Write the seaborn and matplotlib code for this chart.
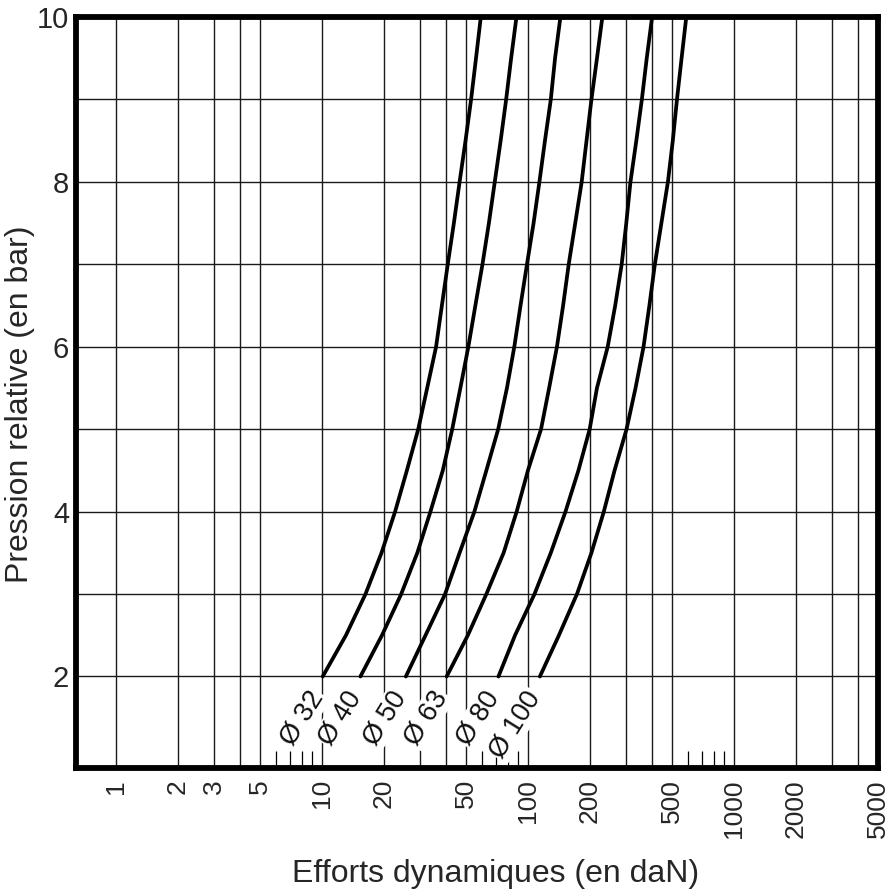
import matplotlib
matplotlib.use("Agg")
import matplotlib.pyplot as plt
import pandas as pd
import seaborn as sns
from matplotlib.ticker import FixedLocator, NullFormatter

# ============ DONNEES ============
DIAMETRES = ["Ø 32", "Ø 40", "Ø 50", "Ø 63", "Ø 80", "Ø 100"]
PRESSIONS = [2, 2.5, 3, 3.5, 4, 4.5, 5, 5.5, 6, 6.5, 7, 7.5, 8, 8.5, 9, 9.5, 10]
EFFORTS_32 = [10.1, 13.1, 16.3, 19.5, 22.7, 25.9, 29.4, 32.5, 35.9, 38.3, 40.9,
              43.8, 46.7, 49.9, 53.1, 56.1, 59.2]
EFFORTS_40 = [15.4, 19.6, 24.3, 29.1, 33.7, 38.7, 43.0, 47.1, 51.5, 55.7, 60.3,
              64.8, 69.2, 73.9, 78.6, 83.1, 88.2]
EFFORTS_50 = [25.6, 31.9, 39.7, 46.7, 55.1, 63.0, 71.9, 79.3, 86.1, 92.3, 99.2,
              106.8, 114.0, 121.3, 129.5, 135.8, 144.2]
EFFORTS_63 = [40.4, 51.2, 63.0, 76.4, 88.4, 100.3, 116.1, 127.1, 138.7, 148.6, 158.2,
              170.2, 182.9, 193.1, 204.0, 217.0, 230.5]
EFFORTS_80 = [72.1, 86.8, 107.9, 129.5, 152.6, 176.4, 200.0, 217.0, 244.7, 266.1, 286.1,
              301.2, 315.6, 337.0, 358.5, 378.6, 402.0]
EFFORTS_100 = [114.6, 141.8, 173.5, 204.0, 234.3, 264.2, 302.1, 334.1, 365.3, 390.0, 414.6,
               446.0, 479.8, 506.7, 530.9, 559.0, 589.2]

X_GRILLE = [1, 2, 3, 4, 5, 10, 20, 30, 40, 50, 100, 200, 300, 400, 500,
            1000, 2000, 3000, 4000, 5000]
X_LABELS = ["1", "2", "3", "", "5", "10", "20", "", "", "50", "100", "200",
            "", "", "500", "1000", "2000", "", "", "5000"]
X_PETITS_TRAITS = [6, 7, 8, 9, 60, 70, 80, 90, 600, 700, 800, 900]
Y_TICKS = [2, 4, 6, 8, 10]
Y_GRILLE_MINEURE = [3, 5, 7, 9]
# =================================

series = [EFFORTS_32, EFFORTS_40, EFFORTS_50, EFFORTS_63, EFFORTS_80, EFFORTS_100]
lignes = []
for nom, efforts in zip(DIAMETRES, series):
    for p, f in zip(PRESSIONS, efforts):
        lignes.append({"diametre": nom, "effort": f, "pression": p})
df = pd.DataFrame(lignes)

sns.set_style("white")
plt.rcParams["font.family"] = ["Liberation Sans", "DejaVu Sans"]
TXT = "#262626"

fig = plt.figure(figsize=(8.9, 8.9), dpi=100)
ax = fig.add_axes([76 / 890, 1 - 768 / 890, (877.5 - 76) / 890, (768 - 17) / 890])

sns.lineplot(data=df, x="effort", y="pression", hue="diametre",
             palette=["black"] * len(DIAMETRES), linewidth=2.7,
             legend=False, ax=ax, sort=False)

ax.set_xscale("log")
ax.set_xlim(0.64, 5000)
ax.set_ylim(0.89, 10)

ax.set_xticks(X_GRILLE, X_LABELS)
ax.xaxis.set_minor_locator(FixedLocator(X_PETITS_TRAITS))
ax.xaxis.set_minor_formatter(NullFormatter())
ax.set_yticks(Y_TICKS)
ax.yaxis.set_minor_locator(FixedLocator(Y_GRILLE_MINEURE))

ax.tick_params(axis="x", which="major", length=0, pad=8, labelsize=19,
               labelrotation=90, labelcolor=TXT)
ax.tick_params(axis="x", which="minor", direction="in", length=12, width=0.9,
               color="black", bottom=True)
ax.tick_params(axis="y", which="both", length=0, pad=5, labelsize=21, labelcolor=TXT)
for lab in ax.get_xticklabels():
    lab.set_verticalalignment("top")

ax.grid(True, which="major", axis="both", color="#1a1a1a", linewidth=1.0)
ax.grid(True, which="minor", axis="y", color="#1a1a1a", linewidth=1.0)
ax.set_axisbelow(True)

for s in ax.spines.values():
    s.set_visible(True)
    s.set_color("black")
    s.set_linewidth(4.2)

# étiquettes des diamètres sous le début de chaque courbe
for nom, efforts in zip(DIAMETRES, series):
    ax.annotate(nom, xy=(efforts[0], PRESSIONS[0]), xytext=(-3.5, -12),
                textcoords="offset points", ha="right", va="center",
                rotation=58, rotation_mode="anchor", fontsize=19.5, color="#111111",
                bbox=dict(facecolor="white", edgecolor="none", pad=1.0))

ax.set_xlabel("Efforts dynamiques (en daN)", fontsize=23, color=TXT)
ax.set_ylabel("Pression relative (en bar)", fontsize=23, color=TXT)
ax.xaxis.set_label_coords(0.523, -0.121)
ax.yaxis.set_label_coords(-0.051, 0.484)

fig.savefig("out.png", dpi=100)
plt.close(fig)
